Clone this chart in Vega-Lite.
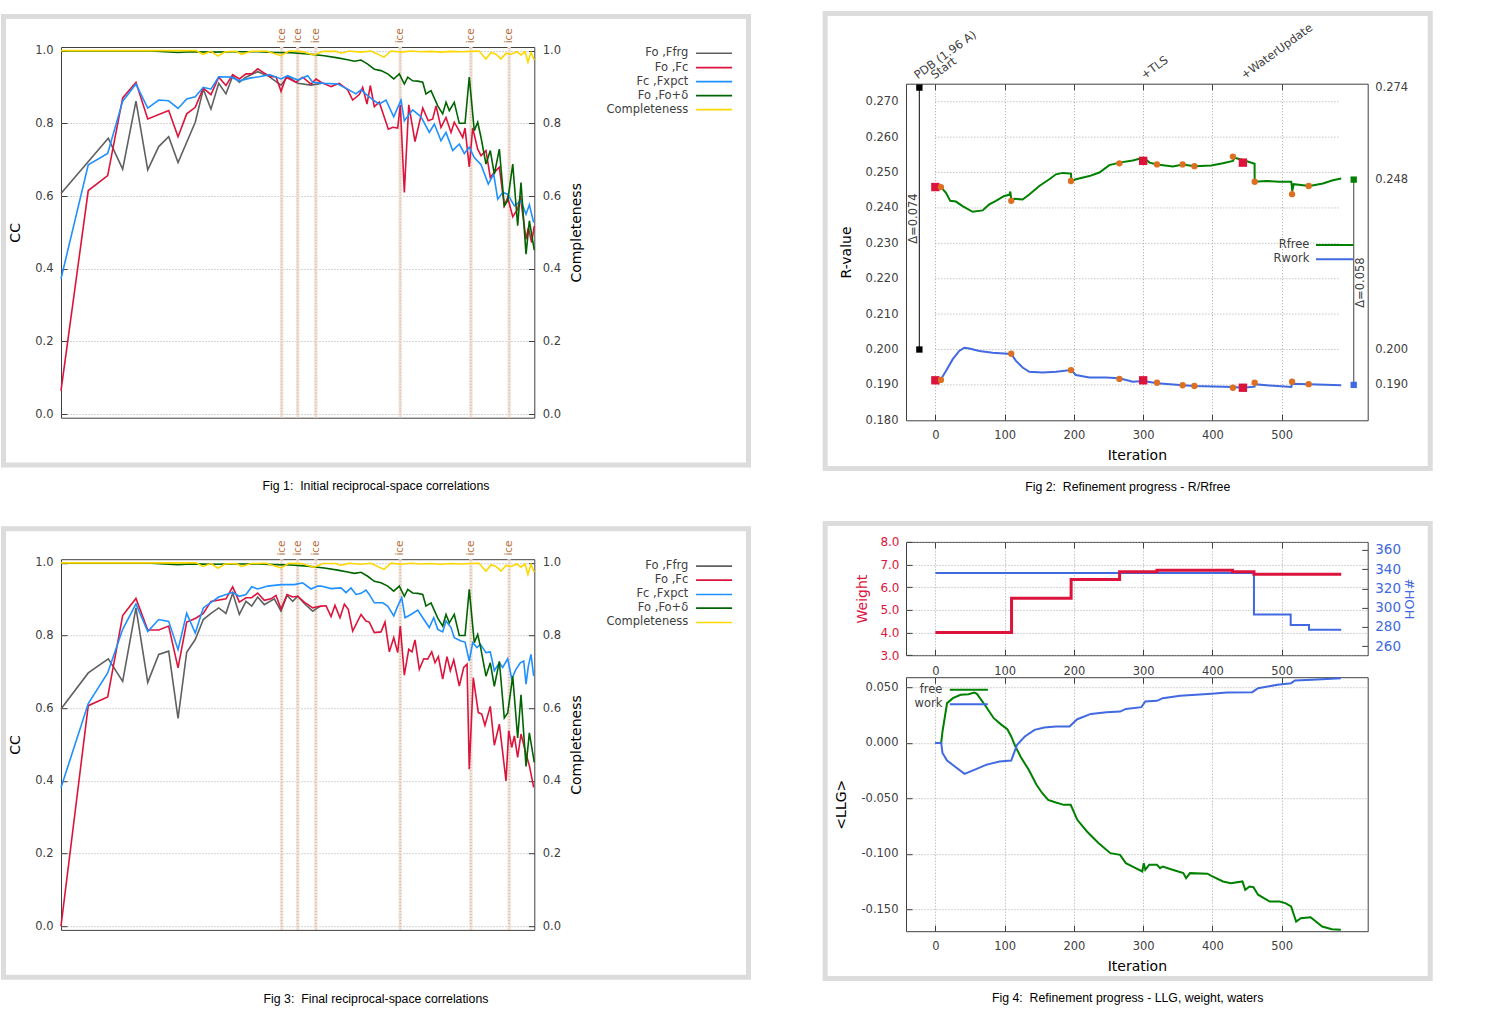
{
"$schema": "https://vega.github.io/schema/vega-lite/v6.json",
"background": "white",
"padding": {"left": 0, "top": 10, "right": 0, "bottom": 0},
"datasets": {
"f1_gray": [{"s":0.0374,"cc":0.607},{"s":0.0844,"cc":0.759},{"s":0.0987,"cc":0.674},{"s":0.1119,"cc":0.861},{"s":0.1236,"cc":0.672},{"s":0.1345,"cc":0.736},{"s":0.1444,"cc":0.763},{"s":0.1537,"cc":0.692},{"s":0.1708,"cc":0.803},{"s":0.1788,"cc":0.894},{"s":0.1864,"cc":0.839},{"s":0.1941,"cc":0.91},{"s":0.2013,"cc":0.881},{"s":0.208,"cc":0.93},{"s":0.2146,"cc":0.913},{"s":0.2212,"cc":0.927},{"s":0.2328,"cc":0.942},{"s":0.2428,"cc":0.931},{"s":0.256,"cc":0.905},{"s":0.2626,"cc":0.929},{"s":0.2726,"cc":0.91},{"s":0.2858,"cc":0.905},{"s":0.2957,"cc":0.91}],
"f1_red": [{"s":0.0374,"cc":0.064},{"s":0.0645,"cc":0.615},{"s":0.0838,"cc":0.656},{"s":0.0987,"cc":0.87},{"s":0.1119,"cc":0.913},{"s":0.1236,"cc":0.812},{"s":0.1444,"cc":0.835},{"s":0.1537,"cc":0.763},{"s":0.1623,"cc":0.826},{"s":0.1708,"cc":0.844},{"s":0.1788,"cc":0.897},{"s":0.1864,"cc":0.879},{"s":0.1941,"cc":0.927},{"s":0.2013,"cc":0.904},{"s":0.208,"cc":0.934},{"s":0.2146,"cc":0.922},{"s":0.2212,"cc":0.936},{"s":0.2269,"cc":0.936},{"s":0.2328,"cc":0.95},{"s":0.2394,"cc":0.938},{"s":0.246,"cc":0.928},{"s":0.251,"cc":0.928},{"s":0.256,"cc":0.888},{"s":0.261,"cc":0.927},{"s":0.2709,"cc":0.913},{"s":0.2775,"cc":0.927},{"s":0.2858,"cc":0.908},{"s":0.2908,"cc":0.922},{"s":0.2957,"cc":0.913},{"s":0.3057,"cc":0.901},{"s":0.3139,"cc":0.91},{"s":0.3222,"cc":0.892},{"s":0.3272,"cc":0.864},{"s":0.3338,"cc":0.879},{"s":0.3371,"cc":0.899},{"s":0.3414,"cc":0.853},{"s":0.3447,"cc":0.904},{"s":0.3487,"cc":0.846},{"s":0.3536,"cc":0.858},{"s":0.3626,"cc":0.784},{"s":0.367,"cc":0.789},{"s":0.3719,"cc":0.787},{"s":0.3745,"cc":0.851},{"s":0.3785,"cc":0.61},{"s":0.3829,"cc":0.851},{"s":0.3891,"cc":0.75},{"s":0.3968,"cc":0.842},{"s":0.4023,"cc":0.807},{"s":0.4067,"cc":0.812},{"s":0.41,"cc":0.848},{"s":0.4149,"cc":0.789},{"s":0.4199,"cc":0.816},{"s":0.4249,"cc":0.775},{"s":0.4281,"cc":0.803},{"s":0.4315,"cc":0.787},{"s":0.4365,"cc":0.761},{"s":0.4388,"cc":0.787},{"s":0.443,"cc":0.68},{"s":0.4464,"cc":0.787},{"s":0.4514,"cc":0.729},{"s":0.4547,"cc":0.711},{"s":0.4596,"cc":0.725},{"s":0.4639,"cc":0.651},{"s":0.4679,"cc":0.665},{"s":0.4729,"cc":0.679},{"s":0.4778,"cc":0.573},{"s":0.4812,"cc":0.596},{"s":0.4862,"cc":0.543},{"s":0.4911,"cc":0.564},{"s":0.4937,"cc":0.6},{"s":0.4994,"cc":0.481},{"s":0.5017,"cc":0.513},{"s":0.505,"cc":0.472},{"s":0.5076,"cc":0.518}],
"f1_blue": [{"s":0.0374,"cc":0.372},{"s":0.0645,"cc":0.686},{"s":0.0838,"cc":0.717},{"s":0.0987,"cc":0.861},{"s":0.1119,"cc":0.908},{"s":0.1236,"cc":0.842},{"s":0.1345,"cc":0.864},{"s":0.1444,"cc":0.862},{"s":0.1537,"cc":0.841},{"s":0.1623,"cc":0.867},{"s":0.1708,"cc":0.873},{"s":0.1788,"cc":0.899},{"s":0.1864,"cc":0.894},{"s":0.1941,"cc":0.928},{"s":0.2063,"cc":0.927},{"s":0.2146,"cc":0.917},{"s":0.2262,"cc":0.925},{"s":0.2344,"cc":0.928},{"s":0.2444,"cc":0.934},{"s":0.256,"cc":0.922},{"s":0.2626,"cc":0.931},{"s":0.2726,"cc":0.919},{"s":0.2825,"cc":0.931},{"s":0.2875,"cc":0.913},{"s":0.299,"cc":0.91},{"s":0.3123,"cc":0.908},{"s":0.3222,"cc":0.894},{"s":0.3305,"cc":0.881},{"s":0.3355,"cc":0.892},{"s":0.3421,"cc":0.876},{"s":0.3487,"cc":0.862},{"s":0.3536,"cc":0.853},{"s":0.3603,"cc":0.864},{"s":0.368,"cc":0.818},{"s":0.3752,"cc":0.864},{"s":0.3785,"cc":0.807},{"s":0.3868,"cc":0.837},{"s":0.3951,"cc":0.818},{"s":0.4033,"cc":0.775},{"s":0.4083,"cc":0.798},{"s":0.4149,"cc":0.752},{"s":0.4199,"cc":0.775},{"s":0.4266,"cc":0.725},{"s":0.4331,"cc":0.743},{"s":0.4381,"cc":0.717},{"s":0.443,"cc":0.734},{"s":0.448,"cc":0.706},{"s":0.4547,"cc":0.686},{"s":0.4619,"cc":0.633},{"s":0.4673,"cc":0.66},{"s":0.4713,"cc":0.591},{"s":0.4762,"cc":0.61},{"s":0.4812,"cc":0.605},{"s":0.4878,"cc":0.573},{"s":0.4944,"cc":0.587},{"s":0.4994,"cc":0.55},{"s":0.5027,"cc":0.576},{"s":0.507,"cc":0.527}],
"f3_gray": [{"s":0.0374,"cc":0.598},{"s":0.0645,"cc":0.697},{"s":0.0844,"cc":0.736},{"s":0.0987,"cc":0.674},{"s":0.1119,"cc":0.876},{"s":0.1236,"cc":0.671},{"s":0.1345,"cc":0.748},{"s":0.1444,"cc":0.757},{"s":0.1537,"cc":0.572},{"s":0.1623,"cc":0.754},{"s":0.1708,"cc":0.789},{"s":0.1788,"cc":0.844},{"s":0.1864,"cc":0.861},{"s":0.1941,"cc":0.876},{"s":0.2013,"cc":0.861},{"s":0.208,"cc":0.917},{"s":0.2146,"cc":0.858},{"s":0.2212,"cc":0.894},{"s":0.2269,"cc":0.881},{"s":0.2328,"cc":0.906},{"s":0.2394,"cc":0.885},{"s":0.2493,"cc":0.901},{"s":0.256,"cc":0.867},{"s":0.262,"cc":0.91},{"s":0.2676,"cc":0.894},{"s":0.2726,"cc":0.908},{"s":0.2791,"cc":0.888},{"s":0.2875,"cc":0.867},{"s":0.2924,"cc":0.876},{"s":0.2957,"cc":0.881}],
"f3_red": [{"s":0.0374,"cc":0.0},{"s":0.0645,"cc":0.607},{"s":0.0838,"cc":0.631},{"s":0.0987,"cc":0.855},{"s":0.1119,"cc":0.902},{"s":0.1236,"cc":0.815},{"s":0.1345,"cc":0.815},{"s":0.1444,"cc":0.826},{"s":0.1537,"cc":0.711},{"s":0.1623,"cc":0.837},{"s":0.1708,"cc":0.847},{"s":0.1788,"cc":0.861},{"s":0.1864,"cc":0.894},{"s":0.2013,"cc":0.901},{"s":0.208,"cc":0.934},{"s":0.2146,"cc":0.892},{"s":0.2212,"cc":0.904},{"s":0.2269,"cc":0.904},{"s":0.2328,"cc":0.917},{"s":0.2394,"cc":0.897},{"s":0.246,"cc":0.901},{"s":0.251,"cc":0.91},{"s":0.256,"cc":0.873},{"s":0.262,"cc":0.913},{"s":0.2676,"cc":0.906},{"s":0.2726,"cc":0.908},{"s":0.2791,"cc":0.892},{"s":0.2875,"cc":0.876},{"s":0.2957,"cc":0.881},{"s":0.3007,"cc":0.882},{"s":0.3057,"cc":0.852},{"s":0.3096,"cc":0.883},{"s":0.3146,"cc":0.849},{"s":0.3189,"cc":0.886},{"s":0.3228,"cc":0.872},{"s":0.3272,"cc":0.812},{"s":0.3355,"cc":0.858},{"s":0.3404,"cc":0.84},{"s":0.3437,"cc":0.837},{"s":0.3487,"cc":0.808},{"s":0.3553,"cc":0.81},{"s":0.3593,"cc":0.837},{"s":0.3636,"cc":0.755},{"s":0.368,"cc":0.794},{"s":0.3719,"cc":0.753},{"s":0.3745,"cc":0.826},{"s":0.3785,"cc":0.691},{"s":0.3829,"cc":0.762},{"s":0.3861,"cc":0.755},{"s":0.3891,"cc":0.788},{"s":0.3934,"cc":0.707},{"s":0.3978,"cc":0.736},{"s":0.4017,"cc":0.735},{"s":0.4057,"cc":0.755},{"s":0.409,"cc":0.725},{"s":0.4123,"cc":0.742},{"s":0.4166,"cc":0.68},{"s":0.4209,"cc":0.742},{"s":0.4242,"cc":0.703},{"s":0.4276,"cc":0.733},{"s":0.4331,"cc":0.661},{"s":0.4375,"cc":0.712},{"s":0.4408,"cc":0.721},{"s":0.443,"cc":0.432},{"s":0.447,"cc":0.684},{"s":0.452,"cc":0.588},{"s":0.4554,"cc":0.584},{"s":0.4586,"cc":0.553},{"s":0.4639,"cc":0.605},{"s":0.4679,"cc":0.498},{"s":0.4729,"cc":0.556},{"s":0.4795,"cc":0.4},{"s":0.4822,"cc":0.538},{"s":0.4852,"cc":0.492},{"s":0.4878,"cc":0.524},{"s":0.4911,"cc":0.465},{"s":0.4944,"cc":0.529},{"s":0.4994,"cc":0.474},{"s":0.5027,"cc":0.442},{"s":0.507,"cc":0.382}],
"f3_blue": [{"s":0.0374,"cc":0.381},{"s":0.0645,"cc":0.613},{"s":0.0838,"cc":0.697},{"s":0.0987,"cc":0.817},{"s":0.1119,"cc":0.887},{"s":0.1236,"cc":0.811},{"s":0.1345,"cc":0.844},{"s":0.1444,"cc":0.839},{"s":0.1537,"cc":0.761},{"s":0.1623,"cc":0.861},{"s":0.1708,"cc":0.807},{"s":0.1788,"cc":0.876},{"s":0.1941,"cc":0.906},{"s":0.208,"cc":0.919},{"s":0.2146,"cc":0.908},{"s":0.2212,"cc":0.913},{"s":0.2269,"cc":0.934},{"s":0.2328,"cc":0.928},{"s":0.2428,"cc":0.936},{"s":0.256,"cc":0.94},{"s":0.2692,"cc":0.94},{"s":0.2775,"cc":0.945},{"s":0.2858,"cc":0.928},{"s":0.2924,"cc":0.936},{"s":0.2957,"cc":0.936},{"s":0.3057,"cc":0.929},{"s":0.3156,"cc":0.931},{"s":0.3206,"cc":0.918},{"s":0.3255,"cc":0.931},{"s":0.3305,"cc":0.913},{"s":0.3355,"cc":0.916},{"s":0.3404,"cc":0.925},{"s":0.3437,"cc":0.913},{"s":0.3487,"cc":0.89},{"s":0.357,"cc":0.89},{"s":0.362,"cc":0.881},{"s":0.368,"cc":0.854},{"s":0.3719,"cc":0.881},{"s":0.3759,"cc":0.904},{"s":0.3792,"cc":0.849},{"s":0.3851,"cc":0.858},{"s":0.3918,"cc":0.87},{"s":0.3968,"cc":0.849},{"s":0.4033,"cc":0.822},{"s":0.4077,"cc":0.849},{"s":0.4117,"cc":0.817},{"s":0.4166,"cc":0.81},{"s":0.4199,"cc":0.84},{"s":0.4249,"cc":0.822},{"s":0.4281,"cc":0.794},{"s":0.4348,"cc":0.785},{"s":0.4388,"cc":0.782},{"s":0.443,"cc":0.73},{"s":0.4464,"cc":0.78},{"s":0.4507,"cc":0.767},{"s":0.454,"cc":0.776},{"s":0.4596,"cc":0.753},{"s":0.4639,"cc":0.755},{"s":0.4679,"cc":0.703},{"s":0.4729,"cc":0.725},{"s":0.4762,"cc":0.712},{"s":0.4812,"cc":0.736},{"s":0.4852,"cc":0.681},{"s":0.4894,"cc":0.707},{"s":0.4937,"cc":0.725},{"s":0.4971,"cc":0.73},{"s":0.4994,"cc":0.666},{"s":0.5017,"cc":0.716},{"s":0.5043,"cc":0.748},{"s":0.507,"cc":0.689}],
"cc_green": [{"s":0.0374,"cc":0.999},{"s":0.1268,"cc":0.999},{"s":0.1537,"cc":0.995},{"s":0.1666,"cc":0.997},{"s":0.1864,"cc":0.996},{"s":0.2162,"cc":0.997},{"s":0.2328,"cc":0.997},{"s":0.2493,"cc":0.995},{"s":0.2659,"cc":0.994},{"s":0.2825,"cc":0.991},{"s":0.299,"cc":0.986},{"s":0.3123,"cc":0.98},{"s":0.3222,"cc":0.975},{"s":0.3288,"cc":0.971},{"s":0.3355,"cc":0.974},{"s":0.3421,"cc":0.963},{"s":0.3487,"cc":0.949},{"s":0.3553,"cc":0.945},{"s":0.362,"cc":0.936},{"s":0.368,"cc":0.922},{"s":0.3735,"cc":0.936},{"s":0.3785,"cc":0.908},{"s":0.3819,"cc":0.927},{"s":0.3868,"cc":0.917},{"s":0.3918,"cc":0.916},{"s":0.3968,"cc":0.913},{"s":0.4,"cc":0.881},{"s":0.405,"cc":0.89},{"s":0.4117,"cc":0.848},{"s":0.4166,"cc":0.826},{"s":0.4199,"cc":0.858},{"s":0.4232,"cc":0.835},{"s":0.4281,"cc":0.858},{"s":0.4331,"cc":0.8},{"s":0.4388,"cc":0.8},{"s":0.443,"cc":0.927},{"s":0.448,"cc":0.78},{"s":0.4514,"cc":0.803},{"s":0.4547,"cc":0.761},{"s":0.4596,"cc":0.688},{"s":0.4639,"cc":0.725},{"s":0.4679,"cc":0.66},{"s":0.4729,"cc":0.729},{"s":0.4778,"cc":0.573},{"s":0.4812,"cc":0.587},{"s":0.4862,"cc":0.688},{"s":0.4911,"cc":0.518},{"s":0.4944,"cc":0.637},{"s":0.4994,"cc":0.44},{"s":0.5027,"cc":0.532},{"s":0.5076,"cc":0.451}],
"compl": [{"s":0.0374,"cc":1.0},{"s":0.1715,"cc":1.0},{"s":0.1785,"cc":0.99},{"s":0.1864,"cc":0.998},{"s":0.1934,"cc":0.985},{"s":0.2004,"cc":0.997},{"s":0.2113,"cc":0.998},{"s":0.2172,"cc":0.99},{"s":0.2262,"cc":0.998},{"s":0.2411,"cc":0.999},{"s":0.256,"cc":0.986},{"s":0.2639,"cc":0.999},{"s":0.2759,"cc":0.998},{"s":0.2888,"cc":0.988},{"s":0.2977,"cc":0.998},{"s":0.3106,"cc":0.998},{"s":0.3156,"cc":0.993},{"s":0.3235,"cc":0.999},{"s":0.3355,"cc":0.996},{"s":0.3454,"cc":0.999},{"s":0.3583,"cc":0.982},{"s":0.3653,"cc":0.999},{"s":0.3752,"cc":0.996},{"s":0.3851,"cc":0.999},{"s":0.3951,"cc":0.997},{"s":0.405,"cc":0.998},{"s":0.4149,"cc":0.996},{"s":0.4249,"cc":0.998},{"s":0.4348,"cc":0.997},{"s":0.4447,"cc":0.998},{"s":0.4527,"cc":0.999},{"s":0.4596,"cc":0.977},{"s":0.4646,"cc":0.995},{"s":0.4696,"cc":0.99},{"s":0.4745,"cc":0.977},{"s":0.4795,"cc":0.993},{"s":0.4845,"cc":0.99},{"s":0.4904,"cc":0.997},{"s":0.4944,"cc":0.988},{"s":0.4984,"cc":0.997},{"s":0.5013,"cc":0.968},{"s":0.5043,"cc":0.995},{"s":0.5076,"cc":0.974}],
"ice": [{"d":3.897,"s":0.25661,"s_lo":0.25491,"s_hi":0.25831},{"d":3.669,"s":0.27256,"s_lo":0.27086,"s_hi":0.27426},{"d":3.441,"s":0.29061,"s_lo":0.28891,"s_hi":0.29231},{"d":2.671,"s":0.37439,"s_lo":0.37269,"s_hi":0.37609},{"d":2.249,"s":0.44464,"s_lo":0.44294,"s_hi":0.44634},{"d":2.072,"s":0.48263,"s_lo":0.48093,"s_hi":0.48433}],
"rfree": [{"it":8.1,"r":0.2459},{"it":15.3,"r":0.2443},{"it":21.5,"r":0.242},{"it":29.7,"r":0.2418},{"it":39.3,"r":0.2405},{"it":53.8,"r":0.2389},{"it":68.2,"r":0.2393},{"it":77.8,"r":0.241},{"it":87.5,"r":0.242},{"it":99.5,"r":0.2434},{"it":106.7,"r":0.2437},{"it":108.2,"r":0.2446},{"it":109.6,"r":0.2424},{"it":114,"r":0.2426},{"it":126,"r":0.2424},{"it":135.6,"r":0.2438},{"it":150.1,"r":0.2462},{"it":164.5,"r":0.2481},{"it":174.2,"r":0.2495},{"it":183.8,"r":0.2499},{"it":195.8,"r":0.2497},{"it":196.3,"r":0.2476},{"it":203,"r":0.2481},{"it":222.3,"r":0.249},{"it":236.8,"r":0.25},{"it":251.2,"r":0.2521},{"it":265.7,"r":0.2528},{"it":285,"r":0.2534},{"it":300.5,"r":0.2542},{"it":309.2,"r":0.2528},{"it":320.2,"r":0.2523},{"it":342.9,"r":0.2517},{"it":357.3,"r":0.2523},{"it":374.2,"r":0.2518},{"it":398.3,"r":0.252},{"it":415.1,"r":0.2526},{"it":429.6,"r":0.2533},{"it":432,"r":0.2542},{"it":446.4,"r":0.2534},{"it":460.9,"r":0.2525},{"it":461,"r":0.2474},{"it":477.7,"r":0.2476},{"it":497,"r":0.2474},{"it":513.9,"r":0.2474},{"it":515.3,"r":0.2448},{"it":517.2,"r":0.2467},{"it":540.3,"r":0.2462},{"it":559.5,"r":0.2469},{"it":574,"r":0.2478},{"it":586,"r":0.2483}],
"rwork": [{"it":8.1,"r":0.1916},{"it":15.3,"r":0.1939},{"it":24.9,"r":0.1972},{"it":34.5,"r":0.1996},{"it":41.7,"r":0.2005},{"it":49,"r":0.2003},{"it":63.4,"r":0.1996},{"it":82.7,"r":0.1991},{"it":104.4,"r":0.1988},{"it":109.1,"r":0.1988},{"it":116.4,"r":0.1968},{"it":126,"r":0.1949},{"it":135.6,"r":0.1937},{"it":154.9,"r":0.1935},{"it":174.2,"r":0.1937},{"it":195.8,"r":0.1942},{"it":203,"r":0.1928},{"it":222.3,"r":0.1921},{"it":246.4,"r":0.1921},{"it":265.7,"r":0.1919},{"it":285,"r":0.1909},{"it":300.5,"r":0.1911},{"it":320.2,"r":0.1905},{"it":357.3,"r":0.1899},{"it":374.2,"r":0.1897},{"it":429.6,"r":0.1894},{"it":444,"r":0.1892},{"it":460.9,"r":0.1895},{"it":461,"r":0.1902},{"it":477.7,"r":0.1899},{"it":513.9,"r":0.1894},{"it":514.8,"r":0.1903},{"it":540.3,"r":0.1902},{"it":586,"r":0.1899}],
"obs": [{"it":8,"r":0.2459},{"it":109.6,"r":0.242},{"it":195.8,"r":0.2476},{"it":265.7,"r":0.2526},{"it":320,"r":0.2523},{"it":357,"r":0.2523},{"it":374,"r":0.2518},{"it":429.6,"r":0.2545},{"it":461,"r":0.2474},{"it":515,"r":0.2439},{"it":539,"r":0.2462},{"it":8,"r":0.1914},{"it":109.6,"r":0.1988},{"it":195.8,"r":0.1942},{"it":265.7,"r":0.1917},{"it":320,"r":0.1906},{"it":357,"r":0.1899},{"it":374,"r":0.1897},{"it":429.6,"r":0.1892},{"it":461,"r":0.1906},{"it":515,"r":0.1909},{"it":539,"r":0.1902}],
"stages": [{"it":0,"r":0.2459},{"it":0,"r":0.1913},{"it":300,"r":0.2533},{"it":300,"r":0.1913},{"it":444,"r":0.2528},{"it":444,"r":0.1892}],
"pdb": [{"it":-23.1,"r":0.274},{"it":-23.1,"r":0.2}],
"final": [{"it":604,"r":0.248,"k":"free"},{"it":604,"r":0.19,"k":"work"}],
"grid_r": [{"r":0.19},{"r":0.2},{"r":0.21},{"r":0.22},{"r":0.23},{"r":0.24},{"r":0.25},{"r":0.26},{"r":0.27}],
"events": [{"label":"PDB (1.96 A)","it":-25.6},{"label":"Start","it":-1.4},{"label":"+TLS","it":301.8},{"label":"+WaterUpdate","it":446.2}],
"weight": [{"it":0,"w":4.0},{"it":110,"w":5.51},{"it":196,"w":6.34},{"it":266,"w":6.68},{"it":320,"w":6.75},{"it":429,"w":6.68},{"it":460,"w":6.57},{"it":586,"w":6.57}],
"hoh": [{"it":0,"n":336},{"it":460,"n":293},{"it":513,"n":282},{"it":539.5,"n":277},{"it":586,"n":277}],
"llg_free": [{"it":0,"llg":0.0},{"it":8.4,"llg":0.0},{"it":10.3,"llg":0.0103},{"it":16.9,"llg":0.0359},{"it":25.3,"llg":0.0404},{"it":36.5,"llg":0.0434},{"it":47.8,"llg":0.044},{"it":56.2,"llg":0.0455},{"it":60,"llg":0.0443},{"it":73,"llg":0.0329},{"it":84.3,"llg":0.0223},{"it":95.5,"llg":0.0163},{"it":103.9,"llg":0.0124},{"it":109.5,"llg":0.0058},{"it":115.1,"llg":-0.0026},{"it":123.5,"llg":-0.0129},{"it":134.8,"llg":-0.0243},{"it":146,"llg":-0.0378},{"it":154.4,"llg":-0.0454},{"it":162.8,"llg":-0.0514},{"it":174,"llg":-0.0538},{"it":185.3,"llg":-0.0559},{"it":195.4,"llg":-0.0559},{"it":204.9,"llg":-0.0694},{"it":218.9,"llg":-0.0799},{"it":235.8,"llg":-0.0905},{"it":252.7,"llg":-0.0995},{"it":266.7,"llg":-0.101},{"it":275,"llg":-0.1085},{"it":286.3,"llg":-0.1121},{"it":298.7,"llg":-0.116},{"it":300.9,"llg":-0.1085},{"it":303.1,"llg":-0.1145},{"it":308.7,"llg":-0.11},{"it":319.9,"llg":-0.11},{"it":324.4,"llg":-0.113},{"it":328.3,"llg":-0.1115},{"it":342.3,"llg":-0.1145},{"it":358,"llg":-0.1175},{"it":362,"llg":-0.122},{"it":367.6,"llg":-0.1175},{"it":392.9,"llg":-0.118},{"it":398.5,"llg":-0.12},{"it":415.3,"llg":-0.125},{"it":426.6,"llg":-0.1266},{"it":443.4,"llg":-0.125},{"it":447.4,"llg":-0.1326},{"it":453.6,"llg":-0.1296},{"it":459.2,"llg":-0.1302},{"it":465.9,"llg":-0.137},{"it":482.8,"llg":-0.1431},{"it":496.8,"llg":-0.1431},{"it":505.2,"llg":-0.1446},{"it":513.6,"llg":-0.1476},{"it":520.9,"llg":-0.1612},{"it":527.6,"llg":-0.1582},{"it":541.7,"llg":-0.1573},{"it":558.5,"llg":-0.1657},{"it":572.5,"llg":-0.1681},{"it":585.4,"llg":-0.1687}],
"llg_work": [{"it":0,"llg":0.0},{"it":8.4,"llg":0.0},{"it":10.3,"llg":-0.009},{"it":16.9,"llg":-0.0159},{"it":28.1,"llg":-0.0213},{"it":42.1,"llg":-0.0279},{"it":56.2,"llg":-0.0243},{"it":73,"llg":-0.0198},{"it":92.6,"llg":-0.0168},{"it":109.5,"llg":-0.0159},{"it":117.9,"llg":-0.0017},{"it":129.2,"llg":0.0058},{"it":143.2,"llg":0.0118},{"it":157.2,"llg":0.0139},{"it":174,"llg":0.0148},{"it":193.7,"llg":0.0148},{"it":204.9,"llg":0.0214},{"it":224.5,"llg":0.0262},{"it":247,"llg":0.0277},{"it":266.7,"llg":0.0283},{"it":275,"llg":0.0307},{"it":297.5,"llg":0.0323},{"it":303.1,"llg":0.0374},{"it":319.9,"llg":0.038},{"it":328.3,"llg":0.0404},{"it":353.6,"llg":0.0425},{"it":376,"llg":0.0434},{"it":398.5,"llg":0.0443},{"it":421,"llg":0.0455},{"it":457.5,"llg":0.0458},{"it":465.9,"llg":0.0494},{"it":494,"llg":0.0524},{"it":513.6,"llg":0.0539},{"it":519.2,"llg":0.0563},{"it":544.4,"llg":0.0569},{"it":585.4,"llg":0.0584}]
},
"spacing": 70,
"hconcat": [
{"spacing": 31.2, "vconcat": [
{
"width": 473.3, "height": 370.7,
"title": {"text": "Fig 1:\u00a0 Initial reciprocal-space correlations", "orient": "bottom", "anchor": "middle", "frame": "bounds", "offset": 13},
"layer": [
{"data": {"values": [{}]}, "mark": {"type": "rect", "filled": false, "color": "#dcdcdc", "strokeWidth": 5}, "encoding": {"x": {"datum": -0.0197, "type": "quantitative", "scale": {"domain": [0.037425, 0.507614], "nice": false, "zero": false}, "axis": null}, "x2": {"datum": 0.7204}, "y": {"datum": 1.0941, "type": "quantitative", "scale": {"domain": [-0.01, 1.01], "nice": false, "zero": false}, "axis": null}, "y2": {"datum": -0.1401}}},
{"data": {"name": "ice"}, "mark": {"type": "rect", "color": "#f1e4db"}, "encoding": {"x": {"field": "s_lo", "type": "quantitative", "axis": null}, "x2": {"field": "s_hi"}, "y": {"datum": -0.01, "axis": null}, "y2": {"datum": 1.01}}},
{"data": {"name": "ice"}, "mark": {"type": "rule", "color": "#d9b9a3", "strokeWidth": 1.5, "strokeDash": [1, 2]}, "encoding": {"x": {"field": "s", "type": "quantitative", "axis": null}, "y": {"datum": -0.01, "axis": null}, "y2": {"datum": 1.01}}},
{"data": {"name": "ice"}, "mark": {"type": "text", "text": "ice", "angle": 270, "align": "left", "baseline": "middle", "fontSize": 10.5, "color": "#b87040"}, "encoding": {"x": {"field": "s", "type": "quantitative", "axis": null}, "y": {"datum": 1.02, "axis": null}}},
{"data": {"name": "f1_gray"}, "mark": {"type": "line", "color": "#606060", "strokeWidth": 1.6}, "encoding": {"x": {"field": "s", "type": "quantitative", "axis": {"orient": "bottom", "values": [0.037425, 0.084531, 0.131752, 0.178891, 0.225734, 0.273224, 0.320513, 0.367647, 0.414938, 0.460829, 0.507614], "labelExpr": "format(1/datum.value,'.2f')", "title": "Resolution [Å]", "grid": true, "tickSize": -6, "labelPadding": 16, "titlePadding": 8}}, "y": {"field": "cc", "type": "quantitative", "axis": {"orient": "left", "values": [0, 0.2, 0.4, 0.6, 0.8, 1], "format": ".1f", "title": "CC", "grid": true, "tickSize": -6, "labelPadding": 14, "titlePadding": 12}}}},
{"data": {"name": "f1_red"}, "mark": {"type": "line", "color": "#dc143c", "strokeWidth": 1.6}, "encoding": {"x": {"field": "s", "type": "quantitative", "axis": null}, "y": {"field": "cc", "type": "quantitative", "axis": null}}},
{"data": {"name": "f1_blue"}, "mark": {"type": "line", "color": "#1e90ff", "strokeWidth": 1.6}, "encoding": {"x": {"field": "s", "type": "quantitative", "axis": null}, "y": {"field": "cc", "type": "quantitative", "axis": null}}},
{"data": {"name": "cc_green"}, "mark": {"type": "line", "color": "#006400", "strokeWidth": 1.6}, "encoding": {"x": {"field": "s", "type": "quantitative", "axis": null}, "y": {"field": "cc", "type": "quantitative", "axis": null}}},
{"data": {"name": "compl"}, "mark": {"type": "line", "color": "#ffd700", "strokeWidth": 1.6}, "encoding": {"x": {"field": "s", "type": "quantitative", "axis": null}, "y": {"field": "cc", "type": "quantitative", "axis": {"orient": "right", "values": [0, 0.2, 0.4, 0.6, 0.8, 1], "format": ".1f", "title": "Completeness", "grid": false, "tickSize": -6, "labelPadding": 14, "titlePadding": 9, "titleAngle": 270, "titleBaseline": "top"}}}},
{"data": {"values": [{}]}, "mark": {"type": "text", "text": "Fo ,Ffrg", "align": "right", "baseline": "middle", "fontSize": 11.5, "color": "#404040"}, "encoding": {"x": {"datum": 0.6606, "axis": null}, "y": {"datum": 0.9926, "axis": null}}},
{"data": {"values": [{}]}, "mark": {"type": "text", "text": "Fo ,Fc", "align": "right", "baseline": "middle", "fontSize": 11.5, "color": "#404040"}, "encoding": {"x": {"datum": 0.6606, "axis": null}, "y": {"datum": 0.9532, "axis": null}}},
{"data": {"values": [{}]}, "mark": {"type": "text", "text": "Fc ,Fxpct", "align": "right", "baseline": "middle", "fontSize": 11.5, "color": "#404040"}, "encoding": {"x": {"datum": 0.6606, "axis": null}, "y": {"datum": 0.9147, "axis": null}}},
{"data": {"values": [{}]}, "mark": {"type": "text", "text": "Fo ,Fo+δ", "align": "right", "baseline": "middle", "fontSize": 11.5, "color": "#404040"}, "encoding": {"x": {"datum": 0.6606, "axis": null}, "y": {"datum": 0.8761, "axis": null}}},
{"data": {"values": [{}]}, "mark": {"type": "text", "text": "Completeness", "align": "right", "baseline": "middle", "fontSize": 11.5, "color": "#404040"}, "encoding": {"x": {"datum": 0.6606, "axis": null}, "y": {"datum": 0.8376, "axis": null}}},
{"data": {"values": [{}]}, "mark": {"type": "rule", "color": "#606060", "strokeWidth": 1.6}, "encoding": {"x": {"datum": 0.6683, "axis": null}, "x2": {"datum": 0.7041}, "y": {"datum": 0.9926, "axis": null}}},
{"data": {"values": [{}]}, "mark": {"type": "rule", "color": "#dc143c", "strokeWidth": 1.6}, "encoding": {"x": {"datum": 0.6683, "axis": null}, "x2": {"datum": 0.7041}, "y": {"datum": 0.9532, "axis": null}}},
{"data": {"values": [{}]}, "mark": {"type": "rule", "color": "#1e90ff", "strokeWidth": 1.6}, "encoding": {"x": {"datum": 0.6683, "axis": null}, "x2": {"datum": 0.7041}, "y": {"datum": 0.9147, "axis": null}}},
{"data": {"values": [{}]}, "mark": {"type": "rule", "color": "#006400", "strokeWidth": 1.6}, "encoding": {"x": {"datum": 0.6683, "axis": null}, "x2": {"datum": 0.7041}, "y": {"datum": 0.8761, "axis": null}}},
{"data": {"values": [{}]}, "mark": {"type": "rule", "color": "#ffd700", "strokeWidth": 1.6}, "encoding": {"x": {"datum": 0.6683, "axis": null}, "x2": {"datum": 0.7041}, "y": {"datum": 0.8376, "axis": null}}}
],
"resolve": {"axis": {"y": "independent"}}
},
{
"width": 473.3, "height": 370.7,
"title": {"text": "Fig 3:\u00a0 Final reciprocal-space correlations", "orient": "bottom", "anchor": "middle", "frame": "bounds", "offset": 13},
"layer": [
{"data": {"values": [{}]}, "mark": {"type": "rect", "filled": false, "color": "#dcdcdc", "strokeWidth": 5}, "encoding": {"x": {"datum": -0.0197, "type": "quantitative", "scale": {"domain": [0.037425, 0.507614], "nice": false, "zero": false}, "axis": null}, "x2": {"datum": 0.7204}, "y": {"datum": 1.0941, "type": "quantitative", "scale": {"domain": [-0.01, 1.01], "nice": false, "zero": false}, "axis": null}, "y2": {"datum": -0.1404}}},
{"data": {"name": "ice"}, "mark": {"type": "rect", "color": "#f1e4db"}, "encoding": {"x": {"field": "s_lo", "type": "quantitative", "axis": null}, "x2": {"field": "s_hi"}, "y": {"datum": -0.01, "axis": null}, "y2": {"datum": 1.01}}},
{"data": {"name": "ice"}, "mark": {"type": "rule", "color": "#d9b9a3", "strokeWidth": 1.5, "strokeDash": [1, 2]}, "encoding": {"x": {"field": "s", "type": "quantitative", "axis": null}, "y": {"datum": -0.01, "axis": null}, "y2": {"datum": 1.01}}},
{"data": {"name": "ice"}, "mark": {"type": "text", "text": "ice", "angle": 270, "align": "left", "baseline": "middle", "fontSize": 10.5, "color": "#b87040"}, "encoding": {"x": {"field": "s", "type": "quantitative", "axis": null}, "y": {"datum": 1.02, "axis": null}}},
{"data": {"name": "f3_gray"}, "mark": {"type": "line", "color": "#606060", "strokeWidth": 1.6}, "encoding": {"x": {"field": "s", "type": "quantitative", "axis": {"orient": "bottom", "values": [0.037425, 0.084531, 0.131752, 0.178891, 0.225734, 0.273224, 0.320513, 0.367647, 0.414938, 0.460829, 0.507614], "labelExpr": "format(1/datum.value,'.2f')", "title": "Resolution [Å]", "grid": true, "tickSize": -6, "labelPadding": 16, "titlePadding": 8}}, "y": {"field": "cc", "type": "quantitative", "axis": {"orient": "left", "values": [0, 0.2, 0.4, 0.6, 0.8, 1], "format": ".1f", "title": "CC", "grid": true, "tickSize": -6, "labelPadding": 14, "titlePadding": 12}}}},
{"data": {"name": "f3_red"}, "mark": {"type": "line", "color": "#dc143c", "strokeWidth": 1.6}, "encoding": {"x": {"field": "s", "type": "quantitative", "axis": null}, "y": {"field": "cc", "type": "quantitative", "axis": null}}},
{"data": {"name": "f3_blue"}, "mark": {"type": "line", "color": "#1e90ff", "strokeWidth": 1.6}, "encoding": {"x": {"field": "s", "type": "quantitative", "axis": null}, "y": {"field": "cc", "type": "quantitative", "axis": null}}},
{"data": {"name": "cc_green"}, "mark": {"type": "line", "color": "#006400", "strokeWidth": 1.6}, "encoding": {"x": {"field": "s", "type": "quantitative", "axis": null}, "y": {"field": "cc", "type": "quantitative", "axis": null}}},
{"data": {"name": "compl"}, "mark": {"type": "line", "color": "#ffd700", "strokeWidth": 1.6}, "encoding": {"x": {"field": "s", "type": "quantitative", "axis": null}, "y": {"field": "cc", "type": "quantitative", "axis": {"orient": "right", "values": [0, 0.2, 0.4, 0.6, 0.8, 1], "format": ".1f", "title": "Completeness", "grid": false, "tickSize": -6, "labelPadding": 14, "titlePadding": 9, "titleAngle": 270, "titleBaseline": "top"}}}},
{"data": {"values": [{}]}, "mark": {"type": "text", "text": "Fo ,Ffrg", "align": "right", "baseline": "middle", "fontSize": 11.5, "color": "#404040"}, "encoding": {"x": {"datum": 0.6606, "axis": null}, "y": {"datum": 0.9909, "axis": null}}},
{"data": {"values": [{}]}, "mark": {"type": "text", "text": "Fo ,Fc", "align": "right", "baseline": "middle", "fontSize": 11.5, "color": "#404040"}, "encoding": {"x": {"datum": 0.6606, "axis": null}, "y": {"datum": 0.9524, "axis": null}}},
{"data": {"values": [{}]}, "mark": {"type": "text", "text": "Fc ,Fxpct", "align": "right", "baseline": "middle", "fontSize": 11.5, "color": "#404040"}, "encoding": {"x": {"datum": 0.6606, "axis": null}, "y": {"datum": 0.913, "axis": null}}},
{"data": {"values": [{}]}, "mark": {"type": "text", "text": "Fo ,Fo+δ", "align": "right", "baseline": "middle", "fontSize": 11.5, "color": "#404040"}, "encoding": {"x": {"datum": 0.6606, "axis": null}, "y": {"datum": 0.8753, "axis": null}}},
{"data": {"values": [{}]}, "mark": {"type": "text", "text": "Completeness", "align": "right", "baseline": "middle", "fontSize": 11.5, "color": "#404040"}, "encoding": {"x": {"datum": 0.6606, "axis": null}, "y": {"datum": 0.8359, "axis": null}}},
{"data": {"values": [{}]}, "mark": {"type": "rule", "color": "#606060", "strokeWidth": 1.6}, "encoding": {"x": {"datum": 0.6683, "axis": null}, "x2": {"datum": 0.7041}, "y": {"datum": 0.9909, "axis": null}}},
{"data": {"values": [{}]}, "mark": {"type": "rule", "color": "#dc143c", "strokeWidth": 1.6}, "encoding": {"x": {"datum": 0.6683, "axis": null}, "x2": {"datum": 0.7041}, "y": {"datum": 0.9524, "axis": null}}},
{"data": {"values": [{}]}, "mark": {"type": "rule", "color": "#1e90ff", "strokeWidth": 1.6}, "encoding": {"x": {"datum": 0.6683, "axis": null}, "x2": {"datum": 0.7041}, "y": {"datum": 0.913, "axis": null}}},
{"data": {"values": [{}]}, "mark": {"type": "rule", "color": "#006400", "strokeWidth": 1.6}, "encoding": {"x": {"datum": 0.6683, "axis": null}, "x2": {"datum": 0.7041}, "y": {"datum": 0.8753, "axis": null}}},
{"data": {"values": [{}]}, "mark": {"type": "rule", "color": "#ffd700", "strokeWidth": 1.6}, "encoding": {"x": {"datum": 0.6683, "axis": null}, "x2": {"datum": 0.7041}, "y": {"datum": 0.8359, "axis": null}}}
],
"resolve": {"axis": {"y": "independent"}}
}
]},
{"bounds": "flush", "spacing": 35.7, "vconcat": [
{"width": 20, "height": 1, "data": {"values": []}, "mark": {"type": "point", "opacity": 0}, "view": {"stroke": null}},
{"spacing": 25.2, "vconcat": [
{
"width": 461.7, "height": 336.6,
"title": {"text": "Fig 2:\u00a0 Refinement progress - R/Rfree", "orient": "bottom", "anchor": "middle", "frame": "bounds", "offset": 10},
"layer": [
{"data": {"values": [{}]}, "mark": {"type": "rect", "filled": false, "color": "#dcdcdc", "strokeWidth": 5}, "encoding": {"x": {"datum": -159.1, "type": "quantitative", "scale": {"domain": [-42.4, 624.2], "nice": false, "zero": false}, "axis": null}, "x2": {"datum": 714.5}, "y": {"datum": 0.2949, "type": "quantitative", "scale": {"domain": [0.18, 0.2751], "nice": false, "zero": false}, "axis": null}, "y2": {"datum": 0.16638}}},
{"data": {"name": "grid_r"}, "mark": {"type": "rule", "color": "#a8a8a8", "strokeWidth": 1, "strokeDash": [1, 2]}, "encoding": {"x": {"datum": 0, "axis": null}, "x2": {"datum": 583}, "y": {"field": "r", "type": "quantitative", "axis": null}}},
{"data": {"name": "rfree"}, "mark": {"type": "line", "color": "#008000", "strokeWidth": 2}, "encoding": {"x": {"field": "it", "type": "quantitative", "axis": {"orient": "bottom", "values": [0, 100, 200, 300, 400, 500], "title": "Iteration", "grid": true, "tickSize": -6, "labelPadding": 15, "titlePadding": 8}}, "y": {"field": "r", "type": "quantitative", "axis": {"orient": "left", "values": [0.18, 0.19, 0.2, 0.21, 0.22, 0.23, 0.24, 0.25, 0.26, 0.27], "format": ".3f", "title": "R-value", "grid": false, "ticks": false, "labelPadding": 8, "titlePadding": 12}}}},
{"data": {"name": "rwork"}, "mark": {"type": "line", "color": "#4169e1", "strokeWidth": 2}, "encoding": {"x": {"field": "it", "type": "quantitative", "axis": {"orient": "top", "values": [0, 100, 200, 300, 400, 500], "labels": false, "grid": false, "tickSize": -6, "title": null}}, "y": {"field": "r", "type": "quantitative", "axis": {"orient": "right", "values": [0.19, 0.2, 0.248, 0.274], "format": ".3f", "title": null, "grid": false, "ticks": false, "labelPadding": 7}}}},
{"data": {"name": "stages"}, "mark": {"type": "point", "shape": "square", "filled": true, "color": "#dc143c", "size": 70, "opacity": 1}, "encoding": {"x": {"field": "it", "type": "quantitative", "axis": null}, "y": {"field": "r", "type": "quantitative", "axis": null}}},
{"data": {"name": "obs"}, "mark": {"type": "circle", "color": "#dd6f22", "size": 40, "opacity": 1}, "encoding": {"x": {"field": "it", "type": "quantitative", "axis": null}, "y": {"field": "r", "type": "quantitative", "axis": null}}},
{"data": {"name": "pdb"}, "mark": {"type": "line", "color": "#303030", "strokeWidth": 1.2}, "encoding": {"x": {"field": "it", "type": "quantitative", "axis": null}, "y": {"field": "r", "type": "quantitative", "axis": null}}},
{"data": {"name": "pdb"}, "mark": {"type": "point", "shape": "square", "filled": true, "color": "#000000", "size": 40, "opacity": 1}, "encoding": {"x": {"field": "it", "type": "quantitative", "axis": null}, "y": {"field": "r", "type": "quantitative", "axis": null}}},
{"data": {"name": "final"}, "mark": {"type": "line", "color": "#606060", "strokeWidth": 1.2}, "encoding": {"x": {"field": "it", "type": "quantitative", "axis": null}, "y": {"field": "r", "type": "quantitative", "axis": null}}},
{"data": {"name": "final"}, "mark": {"type": "point", "shape": "square", "filled": true, "size": 40, "opacity": 1}, "encoding": {"x": {"field": "it", "type": "quantitative", "axis": null}, "y": {"field": "r", "type": "quantitative", "axis": null}, "color": {"field": "k", "type": "nominal", "scale": {"domain": ["free", "work"], "range": ["#008000", "#4169e1"]}, "legend": null}}},
{"data": {"values": [{}]}, "mark": {"type": "text", "text": "Δ=0.074", "angle": 270, "align": "center", "baseline": "middle", "fontSize": 11.5, "color": "#404040"}, "encoding": {"x": {"datum": -31.3, "axis": null}, "y": {"datum": 0.237, "axis": null}}},
{"data": {"values": [{}]}, "mark": {"type": "text", "text": "Δ=0.058", "angle": 270, "align": "center", "baseline": "middle", "fontSize": 11.5, "color": "#404040"}, "encoding": {"x": {"datum": 614.6, "axis": null}, "y": {"datum": 0.2189, "axis": null}}},
{"data": {"values": [{}]}, "mark": {"type": "text", "text": "Rfree", "align": "right", "baseline": "middle", "fontSize": 11.5, "color": "#404040"}, "encoding": {"x": {"datum": 540, "axis": null}, "y": {"datum": 0.2295, "axis": null}}},
{"data": {"values": [{}]}, "mark": {"type": "text", "text": "Rwork", "align": "right", "baseline": "middle", "fontSize": 11.5, "color": "#404040"}, "encoding": {"x": {"datum": 540, "axis": null}, "y": {"datum": 0.2255, "axis": null}}},
{"data": {"values": [{}]}, "mark": {"type": "rule", "color": "#008000", "strokeWidth": 2}, "encoding": {"x": {"datum": 549.6, "axis": null}, "x2": {"datum": 603.6}, "y": {"datum": 0.2295, "axis": null}}},
{"data": {"values": [{}]}, "mark": {"type": "rule", "color": "#4169e1", "strokeWidth": 2}, "encoding": {"x": {"datum": 549.6, "axis": null}, "x2": {"datum": 603.6}, "y": {"datum": 0.2255, "axis": null}}},
{"data": {"name": "events"}, "mark": {"type": "text", "angle": -36, "align": "left", "baseline": "alphabetic", "fontSize": 11.5, "color": "#404040"}, "encoding": {"x": {"field": "it", "type": "quantitative", "axis": null}, "y": {"datum": 0.2763, "axis": null}, "text": {"field": "label"}}}
],
"resolve": {"axis": {"x": "independent", "y": "independent"}}
},
{
"title": {"text": "Fig 4:\u00a0 Refinement progress - LLG, weight, waters", "orient": "bottom", "anchor": "middle", "frame": "bounds", "offset": 11},
"bounds": "flush",
"spacing": 21.3,
"vconcat": [
{
"width": 461.7, "height": 113.3,
"layer": [
{"data": {"values": [{}]}, "mark": {"type": "rect", "filled": false, "color": "#dcdcdc", "strokeWidth": 5}, "encoding": {"x": {"datum": -159.1, "type": "quantitative", "scale": {"domain": [-42.4, 624.2], "nice": false, "zero": false}, "axis": null}, "x2": {"datum": 714.5}, "y": {"datum": 8.8164, "type": "quantitative", "scale": {"domain": [3, 8], "nice": false, "zero": false}, "axis": null}, "y2": {"datum": -11.263}}},
{"data": {"name": "hoh"}, "mark": {"type": "line", "interpolate": "step-after", "color": "#4169e1", "strokeWidth": 2}, "encoding": {"x": {"field": "it", "type": "quantitative", "axis": {"orient": "top", "values": [0, 100, 200, 300, 400, 500], "labels": false, "grid": false, "tickSize": -6, "title": null}}, "y": {"field": "n", "type": "quantitative", "scale": {"domain": [250.7, 368.3], "nice": false, "zero": false}, "axis": {"orient": "right", "values": [260, 280, 300, 320, 340, 360], "title": "HOH#", "titleColor": "#4169e1", "labelColor": "#4169e1", "labelFontSize": 13.5, "titleFontSize": 13, "grid": false, "tickSize": -6, "labelPadding": 13, "titlePadding": 3, "titleAngle": 270, "titleBaseline": "top"}}}},
{"data": {"name": "weight"}, "mark": {"type": "line", "interpolate": "step-after", "color": "#dc143c", "strokeWidth": 3}, "encoding": {"x": {"field": "it", "type": "quantitative", "axis": {"orient": "bottom", "values": [0, 100, 200, 300, 400, 500], "grid": true, "title": null, "tickSize": -6, "labelPadding": 16}}, "y": {"field": "w", "type": "quantitative", "scale": {"domain": [3, 8], "nice": false, "zero": false}, "axis": {"orient": "left", "values": [3, 4, 5, 6, 7, 8], "format": ".1f", "title": "Weight", "titleColor": "#dc143c", "labelColor": "#dc143c", "labelFontSize": 12, "grid": true, "tickSize": -6, "labelPadding": 13, "titlePadding": 10}}}}
],
"resolve": {"scale": {"y": "independent"}, "axis": {"x": "independent", "y": "independent"}}
},
{
"width": 461.7, "height": 254,
"layer": [
{"data": {"name": "llg_free"}, "mark": {"type": "line", "color": "#008000", "strokeWidth": 2}, "encoding": {"x": {"field": "it", "type": "quantitative", "scale": {"domain": [-42.4, 624.2], "nice": false, "zero": false}, "axis": {"orient": "bottom", "values": [0, 100, 200, 300, 400, 500], "grid": true, "title": "Iteration", "tickSize": -6, "labelPadding": 15, "titlePadding": 8}}, "y": {"field": "llg", "type": "quantitative", "scale": {"domain": [-0.1699, 0.0593], "nice": false, "zero": false}, "axis": {"orient": "left", "values": [-0.15, -0.1, -0.05, 0, 0.05], "labelExpr": "replace(format(datum.value,'.3f'),'\u2212','-')", "title": "<LLG>", "grid": true, "tickSize": -6, "labelPadding": 14, "titlePadding": 12}}}},
{"data": {"name": "llg_work"}, "mark": {"type": "line", "color": "#4169e1", "strokeWidth": 2}, "encoding": {"x": {"field": "it", "type": "quantitative", "axis": {"orient": "top", "values": [0, 100, 200, 300, 400, 500], "labels": false, "grid": false, "tickSize": -6, "title": null}}, "y": {"field": "llg", "type": "quantitative", "axis": null}}},
{"data": {"values": [{}]}, "mark": {"type": "text", "text": "free", "align": "right", "baseline": "middle", "fontSize": 11.5, "color": "#404040"}, "encoding": {"x": {"datum": 10.1, "axis": null}, "y": {"datum": 0.048, "axis": null}}},
{"data": {"values": [{}]}, "mark": {"type": "text", "text": "work", "align": "right", "baseline": "middle", "fontSize": 11.5, "color": "#404040"}, "encoding": {"x": {"datum": 10.1, "axis": null}, "y": {"datum": 0.035, "axis": null}}},
{"data": {"values": [{}]}, "mark": {"type": "rule", "color": "#008000", "strokeWidth": 2}, "encoding": {"x": {"datum": 20.8, "axis": null}, "x2": {"datum": 75.8}, "y": {"datum": 0.048, "axis": null}}},
{"data": {"values": [{}]}, "mark": {"type": "rule", "color": "#4169e1", "strokeWidth": 2}, "encoding": {"x": {"datum": 20.8, "axis": null}, "x2": {"datum": 75.8}, "y": {"datum": 0.035, "axis": null}}}
],
"resolve": {"axis": {"x": "independent", "y": "independent"}}
}
]
}
]}
]}
],
"config": {
"font": "DejaVu Sans",
"view": {"stroke": "#404040", "strokeWidth": 1},
"axis": {"domain": false, "labelFont": "DejaVu Sans", "labelFontSize": 11.5, "labelColor": "#404040", "titleFont": "DejaVu Sans", "titleFontSize": 14, "titleFontWeight": "normal", "titleColor": "#000000", "tickColor": "#404040", "tickWidth": 1, "gridColor": "#a8a8a8", "gridDash": [1, 2], "gridWidth": 1, "labelFlush": false, "labelOverlap": false, "labelBound": false},
"title": {"font": "Liberation Sans", "fontSize": 12.3, "fontWeight": "normal", "color": "#000000"}
}
}
